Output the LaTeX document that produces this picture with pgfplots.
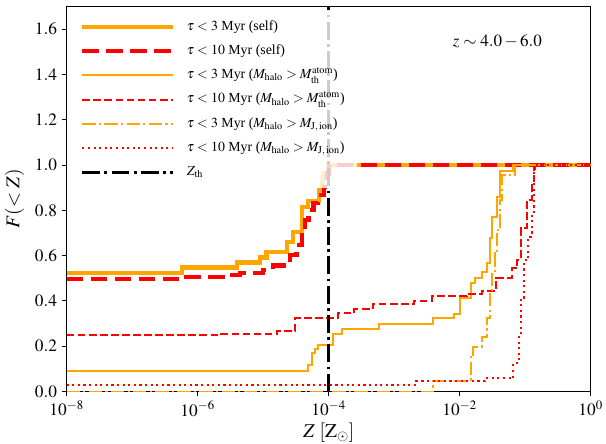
\documentclass[border=0pt]{standalone}
\usepackage{mathptmx}
\usepackage{fontspec}
\setmainfont{Liberation Serif}
\usepackage{pgfplots}
\pgfplotsset{compat=1.18}
\definecolor{mplorange}{HTML}{FFA500}
\definecolor{mplred}{HTML}{FF0000}
\begin{document}
\begin{tikzpicture}
\begin{axis}[
  scale only axis, width=393pt, height=288.75pt,
  xmode=log, xmin=1e-8, xmax=1, ymin=0, ymax=1.7,
  xtick={1e-8,1e-6,1e-4,1e-2,1},
  minor xtick={},
  ytick={0,0.2,0.4,0.6,0.8,1.0,1.2,1.4,1.6},
  yticklabel style={/pgf/number format/.cd, fixed, fixed zerofill, precision=1},
  tick align=outside, xtick pos=bottom, ytick pos=left,
  major tick length=3.65pt,
  every tick/.style={black, line width=0.8pt},
  axis line style={line width=0.8pt},
  ticklabel style={font=\fontsize{13}{15}\selectfont},
  label style={font=\fontsize{14.6}{17}\selectfont},
  xlabel={$Z\ [{\rm Z}_\odot]$},
  ylabel={$F(<Z)$},
  xlabel style={at={(rel axis cs:0.5,-0.1191)}, anchor=base},
  ylabel style={at={(rel axis cs:-0.0996,0.5)}, anchor=center},
  legend cell align=left,
  legend image code/.code={\draw[#1] (0pt,0pt) -- (68pt,0pt);},
  legend style={at={(rel axis cs:0.0063,0.988)}, anchor=north west, fill=white, fill opacity=0.8, draw=none, text opacity=1,
    font=\fontsize{10.4}{12}\selectfont, column sep=6.8pt, inner xsep=7.5pt, inner ysep=3.7pt, row sep=2.15pt,
    nodes={inner sep=2pt, text height=8.5pt, text depth=3.5pt}},
]
\coordinate (axbl) at (rel axis cs:0,0);
\coordinate (axtr) at (rel axis cs:1,1);
% tau < 3 Myr (self)
\addplot[const plot, mplorange, line width=3.2pt] coordinates {
(1e-8,0.522) (5.70e-7,0.548) (3.98e-6,0.570) (8.91e-6,0.592) (1.12e-5,0.617)
(2.29e-5,0.661) (2.88e-5,0.706) (3.89e-5,0.816) (4.79e-5,0.842) (7.08e-5,0.889)
(7.94e-5,0.925) (8.13e-5,0.963) (9.77e-5,1.0) (1,1.0)};
\addlegendentry{$\tau<3$ Myr (self)}
% tau < 10 Myr (self)
\addplot[const plot, mplred, line width=3.2pt, dash pattern=on 12.5pt off 5.5pt] coordinates {
(1e-8,0.497) (5.70e-7,0.507) (2.75e-6,0.516) (4.47e-6,0.522) (1.0e-5,0.537)
(1.41e-5,0.556) (2.57e-5,0.603) (3.24e-5,0.647) (3.89e-5,0.700) (4.37e-5,0.757)
(4.90e-5,0.800) (5.89e-5,0.831) (6.92e-5,0.868) (8.51e-5,0.904) (9.55e-5,0.963)
(1.0e-4,1.0) (1,1.0)};
\addlegendentry{$\tau<10$ Myr (self)}
% tau < 3 Myr (Mhalo > Mth atom)
\addplot[const plot, mplorange, line width=1.5pt] coordinates {
(1e-8,0.092) (4.90e-5,0.117) (5.50e-5,0.169) (6.17e-5,0.190) (6.76e-5,0.205)
(1.17e-4,0.254) (1.58e-4,0.275) (5.89e-4,0.298) (3.98e-3,0.323) (8.13e-3,0.343)
(1.02e-2,0.412) (1.48e-2,0.478) (1.70e-2,0.500) (2.19e-2,0.529) (2.57e-2,0.569)
(2.95e-2,0.677) (3.16e-2,0.772) (3.72e-2,0.860) (4.07e-2,0.975) (6.61e-2,1.0) (1,1.0)};
\addlegendentry{$\tau<3$ Myr ($M_{\rm halo}>M_{\rm th}^{\rm atom}$)}
% tau < 10 Myr (Mhalo > Mth atom)
\addplot[const plot, mplred, line width=1.5pt, dash pattern=on 5.8pt off 2.5pt] coordinates {
(1e-8,0.249) (2.29e-6,0.254) (1.62e-5,0.266) (3.09e-5,0.324) (1.38e-4,0.345)
(2.45e-4,0.363) (4.68e-4,0.386) (2.0e-3,0.401) (3.80e-3,0.421) (1.29e-2,0.430)
(2.19e-2,0.445) (3.63e-2,0.503) (6.31e-2,0.544) (7.59e-2,0.581) (8.51e-2,0.720)
(1.07e-1,0.846) (1.26e-1,0.919) (1.35e-1,1.0) (1,1.0)};
\addlegendentry{$\tau<10$ Myr ($M_{\rm halo}>M_{\rm th}^{\rm atom}$)}
% tau < 3 Myr (Mhalo > MJ,ion)
\addplot[const plot, mplorange, line width=1.5pt, dash pattern=on 10pt off 2.5pt on 1.6pt off 2.5pt] coordinates {
(1e-8,0.0) (3.98e-3,0.047) (1.48e-2,0.153) (1.62e-2,0.198) (2.19e-2,0.241)
(2.63e-2,0.323) (2.95e-2,0.448) (3.16e-2,0.525) (3.47e-2,0.610) (3.72e-2,0.713)
(4.17e-2,0.846) (4.47e-2,0.955) (7.08e-2,1.0) (1,1.0)};
\addlegendentry{$\tau<3$ Myr ($M_{\rm halo}>M_{\rm J,\,ion}$)}
% tau < 10 Myr (Mhalo > MJ,ion)
\addplot[const plot, mplred, line width=1.5pt, dash pattern=on 1.6pt off 2.6pt] coordinates {
(1e-8,0.031) (2.19e-3,0.047) (2.45e-2,0.058) (6.61e-2,0.125) (7.94e-2,0.241)
(8.51e-2,0.404) (9.55e-2,0.581) (1.12e-1,0.683) (1.26e-1,0.786) (1.35e-1,0.978)
(1.41e-1,1.0) (1,1.0)};
\addlegendentry{$\tau<10$ Myr ($M_{\rm halo}>M_{\rm J,\,ion}$)}
% Z_th
\addplot[black, line width=2.1pt, dash pattern=on 13.3pt off 3.3pt on 2.1pt off 3.3pt] coordinates {(1e-4,0) (1e-4,1.7)};
\addlegendentry{$Z_{\rm th}$}
\node[anchor=base, font=\fontsize{12.8}{15}\selectfont] at (rel axis cs:0.822,0.897) {$z\sim4.0-6.0$};
\end{axis}
\pgfresetboundingbox
\path ([xshift=-50pt,yshift=-38.6pt]axbl) rectangle ([xshift=11.5pt,yshift=4.9pt]axtr);
\end{tikzpicture}
\end{document}
